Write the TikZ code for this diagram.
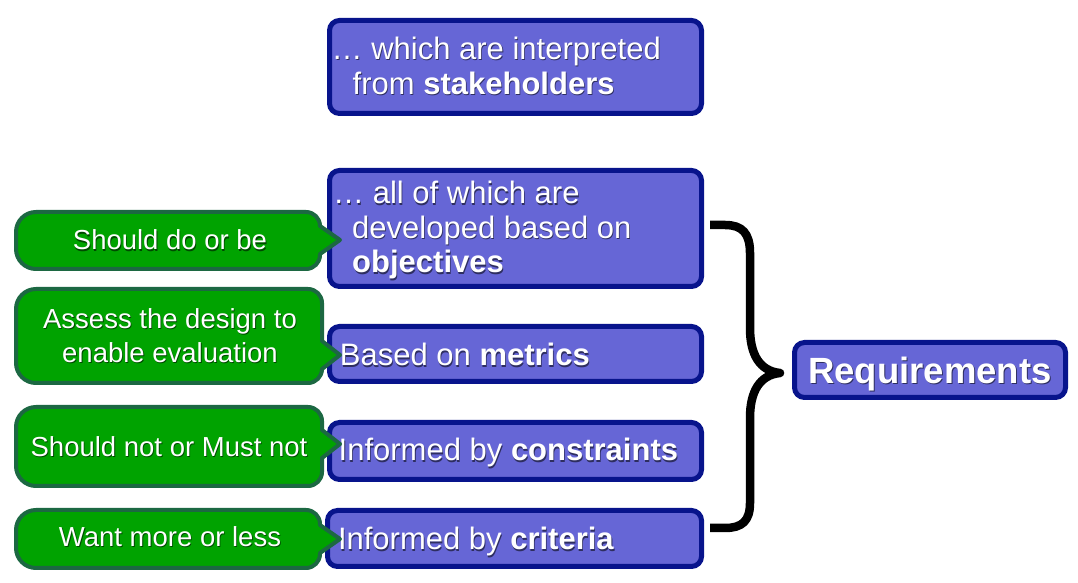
\documentclass[tikz,border=0pt]{standalone}
\usepackage{fontspec}
\setmainfont{Liberation Sans}
\definecolor{boxfill}{RGB}{102,102,214}
\definecolor{boxline}{RGB}{8,20,140}
\definecolor{gfill}{RGB}{0,163,0}
\definecolor{gline}{RGB}{28,104,66}
\newcommand\shb[1]{\makebox[0pt][l]{\hspace*{0.8pt}\raisebox{-1.2pt}{\color{boxfill!45!black}#1}}#1}
\newcommand\shg[1]{\makebox[0pt][l]{\hspace*{0.8pt}\raisebox{-1.2pt}{\color{gfill!45!black}#1}}#1}
\tikzset{
  bluebox/.style={draw=boxline, fill=boxfill, line width=5pt, rounded corners=10pt,
    inner sep=0pt, minimum width=372pt},
  btext/.style={text=white, inner sep=0pt, anchor=base west, font=\fontsize{31}{35}\selectfont},
  bubble/.style={draw=gline, fill=gfill, line width=4pt, line join=round},
  gtext/.style={text=white, inner sep=0pt, anchor=base, font=\fontsize{27.5}{34}\selectfont},
  reqtext/.style={text=white, inner sep=0pt, anchor=base, font=\fontsize{36.5}{40}\selectfont\bfseries},
  bracestyle/.style={line width=8.5pt, black, line cap=butt, line join=round}
}
% x1, ytop, x2, ybot, ytip  (y upwards)
\newcommand\gbubble[5]{%
  \draw[bubble] ({#1+20},#2) -- ({#3-14},#2) arc[start angle=90,end angle=0,radius=14]
    -- (#3,{#5+14}) -- (340,#5) -- (#3,{#5-14}) -- (#3,{#4+14})
    arc[start angle=0,end angle=-90,radius=14] -- ({#1+20},#4)
    arc[start angle=270,end angle=180,radius=20] -- (#1,{#2-20})
    arc[start angle=180,end angle=90,radius=20] -- cycle;
}
\begin{document}
\begin{tikzpicture}[x=1pt,y=1pt]
\useasboundingbox[fill=white] (0,0) rectangle (1078,583);

% blue boxes
\node[bluebox, minimum height=93pt] (stake) at (515.5,516) {};
\node[bluebox, minimum height=116pt] (obj) at (515.5,354.5) {};
\node[bluebox, minimum height=55pt] (met) at (515.5,229) {};
\node[bluebox, minimum height=57pt] (con) at (515.5,132) {};
\node[bluebox, minimum height=56pt, minimum width=374pt] (cri) at (514.5,44.5) {};
\node[bluebox, minimum height=55pt, minimum width=271pt] (req) at (930,213) {};

\node[btext] (stake1) at (331.5,523.5) {\shb{… which are interpreted}};
\node[btext] (stake2) at (352.5,488.5) {\shb{from \textbf{stakeholders}}};
\node[btext] (obj1) at (333,379) {\shb{… all of which are}};
\node[btext] (obj2) at (352,344.5) {\shb{developed based on}};
\node[btext] (obj3) at (352,310) {\shb{\textbf{objectives}}};
\node[btext] (met1) at (339.7,217) {\shb{Based on \textbf{metrics}}};
\node[btext] (con1) at (338.5,122) {\shb{Informed by \textbf{constraints}}};
\node[btext] (cri1) at (337.8,33) {\shb{Informed by \textbf{criteria}}};
\node[reqtext] (reqt) at (930,199.5) {\shb{Requirements}};

% green bubbles
\gbubble{16}{371}{320}{314}{343}
\gbubble{16}{294}{322}{200}{228}
\gbubble{16}{176}{322}{97}{139}
\gbubble{16}{73}{320}{15}{44}

\node[gtext] (g1) at (170,333) {\shg{Should do or be}};
\node[gtext] (g2a) at (170,254.7) {\shg{Assess the design to}};
\node[gtext] (g2b) at (170,220.7) {\shg{enable evaluation}};
\node[gtext] (g3) at (169,126.3) {\shg{Should not or Must not}};
\node[gtext] (g4) at (170,36.3) {\shg{Want more or less}};

% brace
\coordinate (btop) at (710,358);
\coordinate (bbot) at (710,55);
\coordinate (btip) at (780,210);
\draw[bracestyle] (btop) -- (725,358) .. controls (742,358) and (750,350) .. (750,330)
  -- (750,255) .. controls (750,228) and (760,212) .. (btip)
  .. controls (760,208) and (750,192) .. (750,165)
  -- (750,80) .. controls (750,62) and (742,55) .. (725,55) -- (bbot);
\end{tikzpicture}
\end{document}
